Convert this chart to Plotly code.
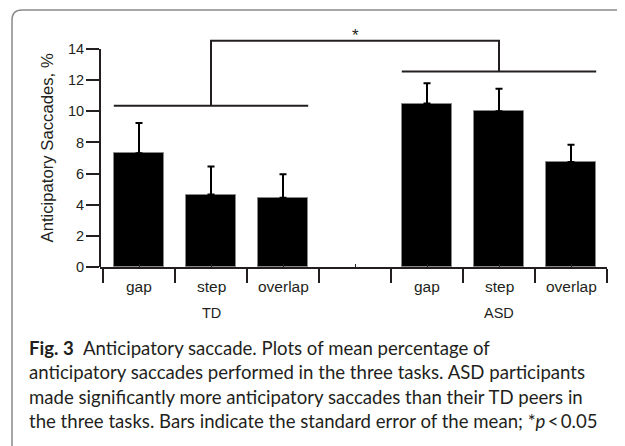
import plotly.graph_objects as go

# categories: three tasks per group, one empty slot between groups
tasks = ["gap", "step", "overlap"]
groups = ["TD", "ASD"]
td_mean = [7.3, 4.65, 4.45]
td_se = [1.95, 1.8, 1.5]
asd_mean = [10.5, 10.0, 6.75]
asd_se = [1.3, 1.45, 1.1]
y_ticks = [0, 2, 4, 6, 8, 10, 12, 14]

caption_lines = [
    "<b>Fig. 3</b>\u2002Anticipatory saccade. Plots of mean percentage of",
    "anticipatory saccades performed in the three tasks. ASD participants",
    "made significantly more anticipatory saccades than their TD peers in",
    "the three tasks. Bars indicate the standard error of the mean; *<i>p</i>\u2009&lt;\u20090.05",
]

INK = "#231f20"
OFF = 8  # page body margin
W, H = 625 - OFF, 446 - OFF
L, R, T, B = 100 - OFF, 18, 29 - OFF, 179
X0, X1 = -0.5417, 6.5
Y1 = (H - T - B) / 15.57


# helpers: reference-picture pixels -> paper coords
def px_x(p):
    return (p - 100) / (W - L - R)


def px_y(p):
    return (267 - p) / (H - T - B)


td_x = [0, 1, 2]
asd_x = [4, 5, 6]

fig = go.Figure()
for xs, m, se in [(td_x, td_mean, td_se), (asd_x, asd_mean, asd_se)]:
    fig.add_trace(go.Bar(
        x=xs, y=m, width=0.7,
        marker=dict(color="black", line=dict(color="#888", width=1)),
        error_y=dict(type="data", symmetric=False, array=se,
                     arrayminus=[0] * len(se), color="black",
                     thickness=2, width=3.5),
        showlegend=False, hoverinfo="skip",
    ))

# significance bracket
line = dict(color=INK, width=2)
td_lvl, asd_lvl, top_lvl = 10.36, 12.55, 14.53
fig.add_shape(type="line", x0=-0.35, x1=2.35, y0=td_lvl, y1=td_lvl, line=line)
fig.add_shape(type="line", x0=3.65, x1=6.35, y0=asd_lvl, y1=asd_lvl, line=line)
fig.add_shape(type="path", path=f"M 1,{td_lvl} L 1,{top_lvl} L 5,{top_lvl} L 5,{asd_lvl}",
              line=line)
fig.add_annotation(x=3, y=top_lvl, text="*", showarrow=False, yanchor="bottom",
                   yshift=-6, font=dict(size=17, color=INK))

# y axis line up to 14
fig.add_shape(type="line", xref="paper", x0=0, x1=0, y0=0, y1=14,
              line=dict(color=INK, width=2))

# category labels
for xs in (td_x, asd_x):
    for x, t in zip(xs, tasks):
        fig.add_annotation(x=x, y=px_y(286), yref="paper", yanchor="middle",
                           text=t, showarrow=False,
                           font=dict(size=15.5, color=INK))
for xs, g in zip((td_x, asd_x), groups):
    fig.add_annotation(x=xs[1], y=px_y(313), yref="paper", yanchor="middle",
                       text=g, showarrow=False, font=dict(size=14.5, color=INK))

fig.add_annotation(x=px_x(46.5), xref="paper", xanchor="center",
                   y=px_y(148), yref="paper", yanchor="middle",
                   text="Anticipatory Saccades, %", textangle=-90, showarrow=False,
                   font=dict(size=16.7, color=INK))

# caption
for i, txt in enumerate(caption_lines):
    fig.add_annotation(x=px_x(27), xref="paper", xanchor="left",
                       y=px_y(348 + 24.3 * i), yref="paper", yanchor="middle",
                       text=txt, showarrow=False, align="left",
                       font=dict(family="Lato", size=18.6, color=INK))

# panel frame
r = 10
fx0, fy0 = 12, 10
frame = (f"M {px_x(fx0)},{px_y(452)} L {px_x(fx0)},{px_y(fy0 + r)} "
         f"Q {px_x(fx0)},{px_y(fy0)} {px_x(fx0 + r)},{px_y(fy0)} L {px_x(640)},{px_y(fy0)}")
fig.add_shape(type="path", xref="paper", yref="paper", path=frame,
              line=dict(color="#8a8a8a", width=1.5))

fig.update_layout(
    width=W, height=H,
    margin=dict(l=L, r=R, t=T, b=B, pad=0),
    plot_bgcolor="white", paper_bgcolor="white",
    font=dict(family="Liberation Sans, Arial", size=14, color=INK),
    bargap=0,
    xaxis=dict(range=[X0, X1], showgrid=False, zeroline=False,
               showline=True, linecolor=INK, linewidth=2,
               tickmode="array", tickvals=[i - 0.5 for i in range(8)],
               showticklabels=False, ticks="outside", ticklen=14, tickwidth=2,
               tickcolor=INK,
               minor=dict(tickmode="linear", tick0=0, dtick=1, ticks="inside",
                          ticklen=3, tickwidth=1, tickcolor=INK)),
    yaxis=dict(range=[0, Y1], showgrid=False, zeroline=False, showline=False,
               tickmode="array", tickvals=y_ticks, ticks="outside", ticklen=13,
               tickwidth=2, tickcolor=INK, tickfont=dict(size=14.5, color=INK),
               ticklabelstandoff=-1),
)

fig.write_html("out.html")
